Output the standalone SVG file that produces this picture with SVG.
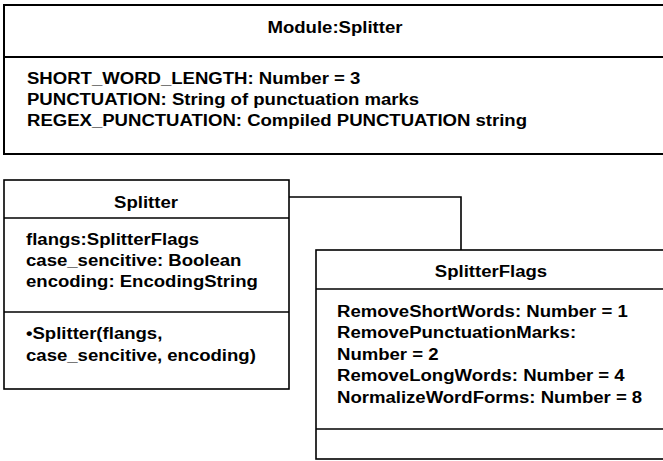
<svg xmlns="http://www.w3.org/2000/svg" width="663" height="461" viewBox="0 0 663 461">
  <style>
    .box { fill: #ffffff; stroke: #000000; stroke-width: 1.6; }
    .thick { stroke-width: 2; }
    .sep { stroke: #000000; stroke-width: 1.6; fill: none; }
    .wire { stroke: #000000; stroke-width: 1.6; fill: none; }
    text { font-family: "Liberation Sans", Arial, sans-serif; font-weight: bold; font-size: 16px; fill: #000000; }
    .title { text-anchor: middle; }
  </style>

  <rect width="663" height="461" fill="#ffffff"/>

  <!-- module with constants (box runs past the right edge) -->
  <g id="module-splitter">
    <rect class="box thick" x="4" y="5" width="670" height="149"/>
    <line class="sep" x1="4" y1="57" x2="670" y2="57" style="stroke-width:2"/>
    <text class="title" transform="translate(335 33) scale(1.16 1)">Module:Splitter</text>
    <text transform="translate(27 84) scale(1.16 1)">SHORT_WORD_LENGTH: Number = 3</text>
    <text transform="translate(27 105) scale(1.16 1)">PUNCTUATION: String of punctuation marks</text>
    <text transform="translate(27 126) scale(1.16 1)">REGEX_PUNCTUATION: Compiled PUNCTUATION string</text>
  </g>

  <!-- connectors -->
  <g id="connectors">
    <polyline class="wire" points="289,197 461,197 461,250"/>
  </g>

  <!-- Splitter class -->
  <g id="class-splitter">
    <rect class="box" x="4" y="180" width="285" height="209"/>
    <line class="sep" x1="4" y1="218" x2="289" y2="218"/>
    <line class="sep" x1="4" y1="312" x2="289" y2="312"/>
    <text class="title" transform="translate(146 208) scale(1.16 1)">Splitter</text>
    <text transform="translate(26 245) scale(1.16 1)">flangs:SplitterFlags</text>
    <text transform="translate(26 266) scale(1.16 1)">case_sencitive: Boolean</text>
    <text transform="translate(26 287) scale(1.16 1)">encoding: EncodingString</text>
    <text transform="translate(26 339) scale(1.16 1)">•Splitter(flangs,</text>
    <text transform="translate(26 361) scale(1.16 1)">case_sencitive, encoding)</text>
  </g>

  <!-- SplitterFlags class -->
  <g id="class-splitterflags">
    <rect class="box" x="316" y="250" width="360" height="209"/>
    <line class="sep" x1="316" y1="289" x2="676" y2="289"/>
    <line class="sep" x1="316" y1="429" x2="676" y2="429"/>
    <text class="title" transform="translate(491 277) scale(1.16 1)">SplitterFlags</text>
    <text transform="translate(337 317) scale(1.16 1)">RemoveShortWords: Number = 1</text>
    <text transform="translate(337 338) scale(1.16 1)">RemovePunctuationMarks:</text>
    <text transform="translate(337 360) scale(1.16 1)">Number = 2</text>
    <text transform="translate(337 381) scale(1.16 1)">RemoveLongWords: Number = 4</text>
    <text transform="translate(337 403) scale(1.16 1)">NormalizeWordForms: Number = 8</text>
  </g>
</svg>
